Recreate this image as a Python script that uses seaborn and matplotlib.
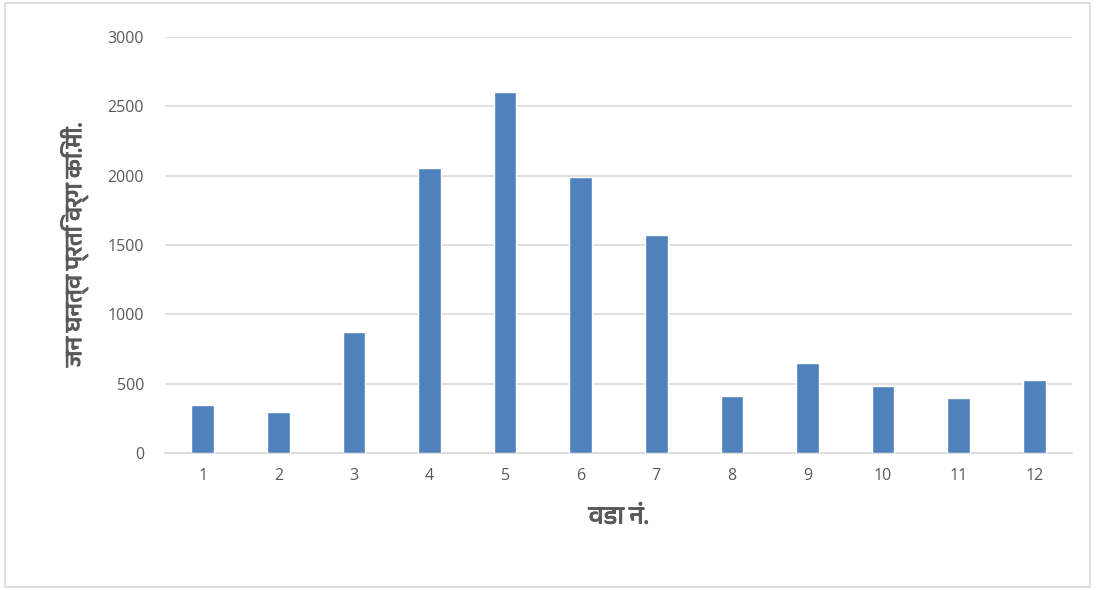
import numpy as np
import pandas as pd
import matplotlib
matplotlib.use("Agg")
import matplotlib.pyplot as plt
import matplotlib.patheffects as pe
from matplotlib import font_manager
from matplotlib.ft2font import FT2Font
from matplotlib.patches import Rectangle
import seaborn as sns

# वडा क्रमांक आणि लोकसंख्येची घनता
wards = ["1", "2", "3", "4", "5", "6", "7", "8", "9", "10", "11", "12"]
density = [346, 298, 874, 2057, 2604, 1990, 1570, 410, 648, 480, 396, 526]
y_ticks = [0, 500, 1000, 1500, 2000, 2500, 3000]

x_title = "वडा नं."
y_title = "जन घनत्व प्रति वर्ग कि.मी."


def find_devanagari_font():
    # look for any installed font that actually has Devanagari glyphs
    preferred = []
    others = []
    for f in font_manager.fontManager.ttflist:
        try:
            cmap = FT2Font(f.fname).get_charmap()
        except Exception:
            continue
        if 0x0935 in cmap and 0x0921 in cmap:
            if "Devanagari" in f.name or "Mangal" in f.name:
                preferred.append(f.name)
            else:
                others.append(f.name)
    found = preferred + others
    return found[0] if found else None


sns.set_style("white")
deva = find_devanagari_font()
label_family = [deva, "DejaVu Sans"] if deva else ["DejaVu Sans"]
plt.rcParams["font.family"] = ["Open Sans", "DejaVu Sans"]

grey_text = "#595959"
grid_grey = "#D9D9D9"
bar_blue = "#4F81BD"

df = pd.DataFrame({"ward": wards, "density": density})

fig = plt.figure(figsize=(10.96, 5.90), dpi=100)
ax = fig.add_axes([165 / 1096, 1 - 453 / 590, (1072 - 165) / 1096, (453 - 37) / 590])

sns.barplot(data=df, x="ward", y="density", color=bar_blue, width=0.3,
            saturation=1, ax=ax, zorder=3)

ax.set_ylim(0, 3000)
ax.set_xlim(-0.5, len(wards) - 0.5)
ax.set_yticks(y_ticks)
ax.yaxis.grid(True, color=grid_grey, linewidth=1.2, zorder=0)
ax.set_axisbelow(True)

for side in ["top", "right", "left"]:
    ax.spines[side].set_visible(False)
ax.spines["bottom"].set_color(grid_grey)
ax.spines["bottom"].set_linewidth(1.2)

ax.tick_params(axis="y", length=0, pad=15, labelsize=11.5, labelcolor=grey_text)
ax.tick_params(axis="x", which="major", length=0, pad=11, labelsize=11.5, labelcolor=grey_text)
ax.set_xticks(np.arange(-0.5, len(wards), 1.0), minor=True)
ax.tick_params(axis="x", which="minor", length=5, width=1.2, color=grid_grey)

# the devanagari font has no bold face, so thicken strokes a little
bold_fx = [pe.withStroke(linewidth=0.6, foreground=grey_text)]
ax.set_xlabel(x_title, family=label_family, fontsize=18, fontweight="bold",
              color=grey_text, labelpad=16, path_effects=bold_fx)
ax.set_ylabel(y_title, family=label_family, fontsize=17, fontweight="bold",
              color=grey_text, labelpad=14, path_effects=bold_fx)

# outer chart border like the spreadsheet frame
fig.patches.append(Rectangle((5 / 1096, 3 / 590), 1085 / 1096, 584 / 590,
                             transform=fig.transFigure, fill=False,
                             edgecolor=grid_grey, linewidth=1.2))

fig.savefig("out.png", dpi=100)
